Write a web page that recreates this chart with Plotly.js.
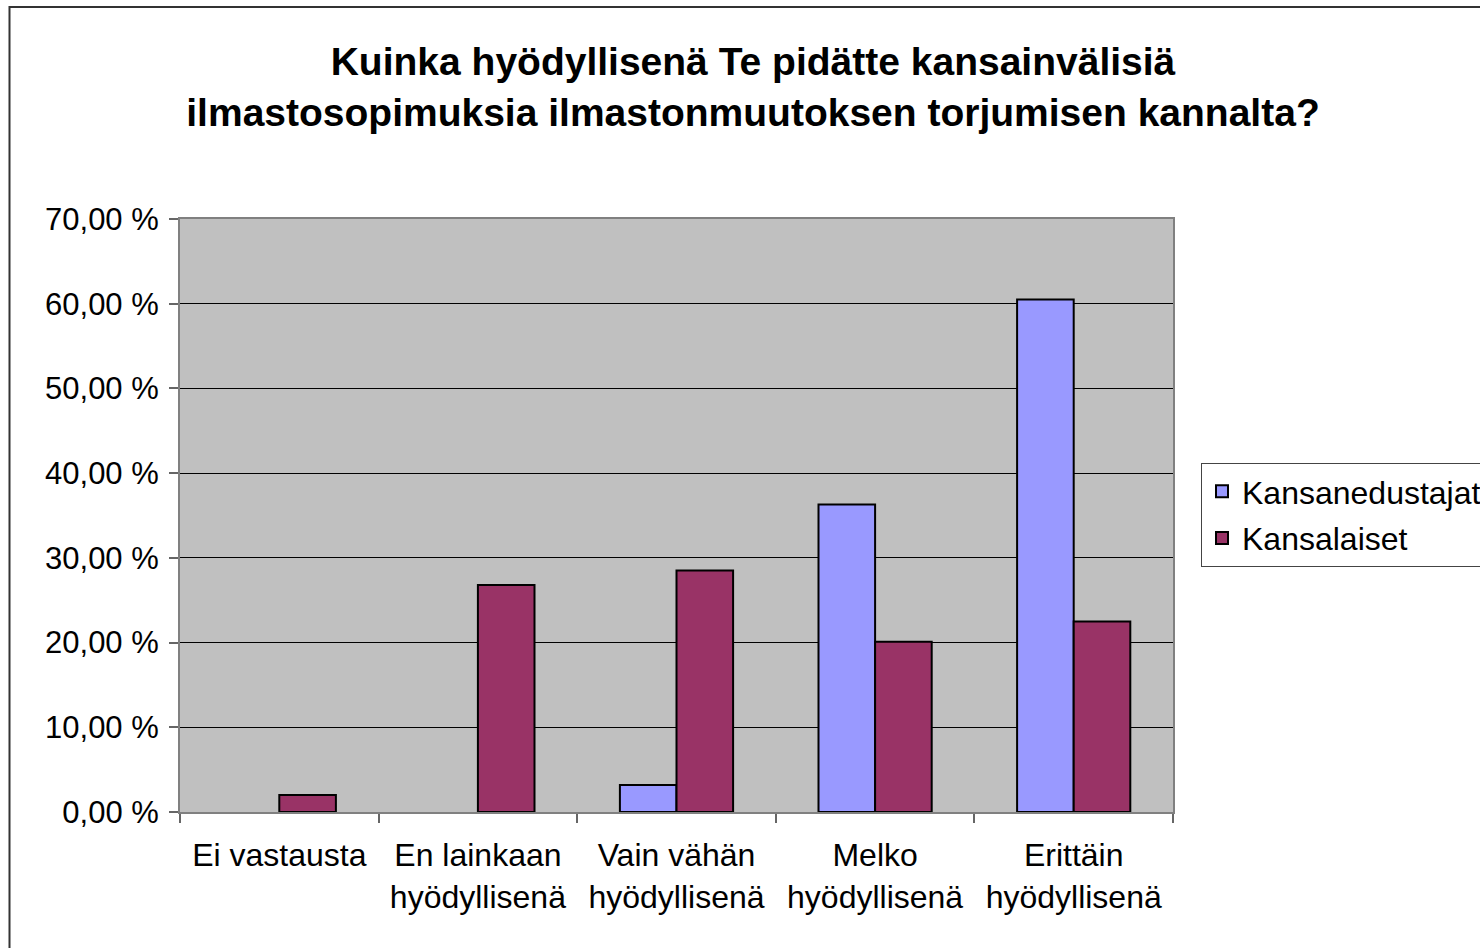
<!DOCTYPE html>
<html>
<head>
<meta charset="utf-8">
<script src="https://cdn.plot.ly/plotly-3.0.1.min.js"></script>
<style>
html,body{margin:0;padding:0;background:#fff;}
#chart{width:1480px;height:948px;}
</style>
</head>
<body>
<div id="chart"></div>
<script>
var categories = ["Ei vastausta", "En lainkaan<br>hyödyllisenä", "Vain vähän<br>hyödyllisenä", "Melko<br>hyödyllisenä", "Erittäin<br>hyödyllisenä"];
var kansanedustajat = [0, 0, 3.2, 36.3, 60.5];
var kansalaiset = [2.0, 26.8, 28.5, 20.1, 22.5];
var yTicks = [0, 10, 20, 30, 40, 50, 60, 70];

var font = "Liberation Sans, Arial, sans-serif";

// zero-valued bars are not drawn in the reference (no outline at the baseline)
function hideZero(vals){ return vals.map(function(v){ return v === 0 ? null : v; }); }
function fmt(v){ return v.toFixed(2).replace(".", ",") + " %"; }

var traces = [
  {type: "bar", name: "Kansanedustajat", x: categories, y: hideZero(kansanedustajat), legendgroup: "a",
   marker: {color: "#9999FF", line: {color: "#000000", width: 2}}},
  {type: "bar", name: "Kansalaiset", x: categories, y: hideZero(kansalaiset), legendgroup: "b",
   marker: {color: "#993366", line: {color: "#000000", width: 2}}}
];

var W = 1480, H = 948, L = 180, R = 307, T = 219, B = 136;
var pw = W - L - R, ph = H - T - B;
function px(x){ return (x - L) / pw; }
function py(y){ return (H - B - y) / ph; }

var layout = {
  width: W, height: H,
  margin: {l: L, r: R, t: T, b: B, pad: 0, autoexpand: false},
  paper_bgcolor: "#ffffff",
  plot_bgcolor: "#C0C0C0",
  font: {family: font, size: 29, color: "#000"},
  title: {text: "<b>Kuinka hyödyllisenä Te pidätte kansainvälisiä<br>ilmastosopimuksia ilmastonmuutoksen torjumisen kannalta?</b>",
          font: {family: font, size: 39, color: "#000"},
          x: 753 / W, xref: "container", xanchor: "center", y: 1 - 75 / H, yref: "container", yanchor: "middle"},
  barmode: "group",
  bargap: 0.43,
  bargroupgap: 0,
  xaxis: {type: "category", showgrid: false, showline: true, mirror: true, linecolor: "#808080", linewidth: 2,
          ticks: "outside", tickson: "boundaries", ticklen: 9, tickcolor: "#666666", tickwidth: 2,
          ticklabelstandoff: 14,
          tickfont: {family: font, size: 32, color: "#000"}, zeroline: false, automargin: false},
  yaxis: {range: [0, 70], tickmode: "array", tickvals: yTicks, ticktext: yTicks.map(fmt),
          showgrid: true, gridcolor: "#000000", gridwidth: 1,
          showline: true, mirror: true, linecolor: "#808080", linewidth: 2,
          ticks: "outside", ticklen: 9, tickcolor: "#666666", tickwidth: 2,
          ticklabelstandoff: 4,
          zeroline: false, tickfont: {family: font, size: 31, color: "#000"}, automargin: false},
  showlegend: true,
  legend: {x: px(1201), y: py(463), xanchor: "left", yanchor: "top",
           bgcolor: "#ffffff", bordercolor: "#444444", borderwidth: 1,
           traceorder: "grouped", tracegroupgap: 2,
           font: {family: font, size: 32, color: "#000"}, itemwidth: 30},
  shapes: [
    {type: "rect", xref: "paper", yref: "paper", x0: px(9.5), x1: px(1520), y0: py(1000), y1: py(7),
     line: {color: "#333333", width: 2}, fillcolor: "rgba(0,0,0,0)", layer: "below"}
  ]
};

Plotly.newPlot("chart", traces, layout, {displayModeBar: false, staticPlot: true});
</script>
</body>
</html>
